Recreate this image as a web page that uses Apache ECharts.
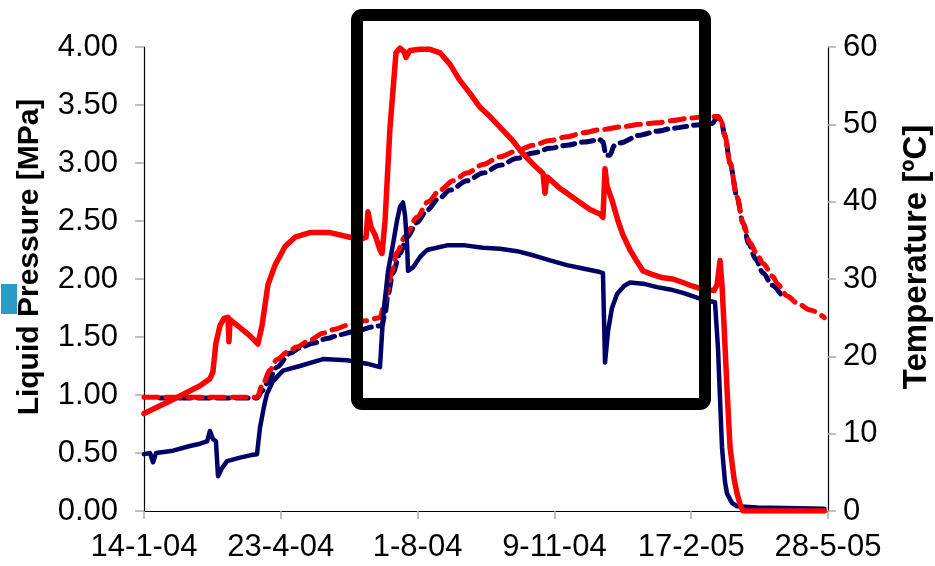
<!DOCTYPE html>
<html>
<head>
<meta charset="utf-8">
<script src="https://cdn.jsdelivr.net/npm/echarts@6/dist/echarts.min.js"></script>
<style>
html,body{margin:0;padding:0;background:#fff;}
#chart{width:935px;height:566px;}
</style>
</head>
<body>
<div id="chart"></div>
<script>
// x values are days since 14-1-04
const xTickLabels = ["14-1-04","23-4-04","1-8-04","9-11-04","17-2-05","28-5-05"];
const leftTitle = "Liquid Pressure [MPa]";
const rightTitle = "Temperature [ºC]";

const pressRedDays = [0,22.7,40.9,48.2,50.4,52.6,55.6,58.5,61.4,62.1,62.9,70.2,77.5,83.3,86.3,90.6,95.8,103.1,110.4,121.3,136,150.6,157.9,162.3,163.7,165.9,168.9,172.5,174,176.2,179.8,184.2,187.1,190.1,191.5,194.4,201.8,209.1,216.4,223.7,231,238.3,245.6,252.9,260.2,269,277,284.4,291.7,293.1,294.6,300.4,304.1,309.2,318.7,326,333.3,335.5,337,338.5,342.1,346.5,350.1,355.3,360.4,364.8,371.3,379.4,386.7,394,400.6,406.4,416.7,418.9,421.1,422.5,424,426.2,428.4,431.3,433.5,435.7,437.9,497.4];
const pressRedVals = [0.84,0.97,1.08,1.14,1.20,1.45,1.60,1.66,1.67,1.46,1.65,1.58,1.51,1.44,1.60,1.95,2.12,2.28,2.36,2.40,2.40,2.36,2.34,2.36,2.58,2.45,2.38,2.25,2.22,2.50,3.30,3.95,3.99,3.96,3.91,3.97,3.98,3.98,3.95,3.85,3.71,3.60,3.48,3.40,3.31,3.20,3.08,2.99,2.91,2.74,2.88,2.82,2.78,2.74,2.66,2.60,2.56,2.53,2.95,2.80,2.68,2.50,2.38,2.25,2.15,2.07,2.04,2.01,2.00,1.97,1.94,1.92,1.90,1.95,2.16,1.95,1.60,1.05,0.55,0.28,0.15,0.06,0.00,0.00];

const pressBlueDays = [0,4.4,6.6,8.8,21.2,33.6,40.9,46.1,48.2,50.4,52.6,54.1,57,60.7,70.2,77.5,82.6,84.8,87.7,89.9,94.3,101.6,114,130.8,148.4,163,172.5,174.7,178.4,181.3,184.9,187.1,189.3,190.8,192.3,193,196.6,201.8,206.9,221.5,234.7,247.8,260.2,272.7,285.8,296.8,309.2,320.9,333.3,335.5,337,339.2,342.1,345.8,350.9,355.3,364.8,375,384.5,394,406.4,417.4,419.6,422.5,424.7,426.2,429.8,433.5,448.1,497.4];
const pressBlueVals = [0.49,0.50,0.42,0.50,0.52,0.56,0.58,0.60,0.69,0.62,0.60,0.30,0.37,0.43,0.46,0.48,0.49,0.72,0.90,1.01,1.12,1.21,1.25,1.31,1.30,1.27,1.24,1.67,2.07,2.25,2.50,2.62,2.66,2.55,2.30,2.07,2.10,2.19,2.25,2.29,2.29,2.27,2.26,2.24,2.20,2.16,2.12,2.09,2.06,2.05,1.28,1.55,1.75,1.87,1.94,1.97,1.96,1.93,1.91,1.88,1.83,1.80,1.40,0.55,0.25,0.15,0.07,0.04,0.03,0.02];

const tempRedDays = [0,40.9,82.6,87,92.1,97.2,104.5,111.8,121.3,130.8,139.6,148.4,161.6,172.5,175.4,177.6,181.3,184.9,190.8,199.6,207.6,216.4,225.9,236.1,247.8,260.2,272.7,284.4,296.8,309.2,320.9,333.3,350.1,362.6,375,386.7,399.1,410.1,419.6,421.8,424.7,428.4,433.5,437.9,443,448.1,452.5,459.9,462.8,470.1,477.4,486.9,497.4];
const tempRedVals = [14.7,14.7,14.7,16.5,18.2,19.6,20.5,21.2,22.1,23.0,23.5,24.0,24.6,25.0,26.5,28.2,31.0,33.4,35.5,38.0,40.0,41.5,42.7,43.7,44.8,45.8,46.6,47.3,47.9,48.4,48.9,49.3,49.7,50.0,50.2,50.5,50.8,51.0,51.0,50.5,48.5,45.0,40.6,37.2,34.7,33.2,32.0,30.3,29.4,27.8,26.9,26.0,25.0];

const tempBlueDays = [11.7,82.6,86.3,89.9,97.2,106.7,114,123.5,133.8,143.3,155.7,167.4,174,176.2,178.4,182,187.1,192.3,199.6,206.9,214.9,223.7,236.1,247.8,260.2,272.7,284.4,296.8,309.2,320.9,333.3,335.5,337.7,340.6,343.6,348,362.6,375,386.7,404.2,415.2,419.6,421.8,424.7,428.4,433.5,437.9,442,447,452.5,459.1,466.4];
const tempBlueVals = [14.6,14.6,15.5,16.5,18.6,20.4,21.1,21.7,22.3,22.8,23.3,23.8,24.0,25.5,28.0,30.8,33.3,35.4,37.3,38.9,40.3,41.5,42.7,43.7,44.7,45.6,46.3,46.9,47.3,47.7,48.0,47.7,46.0,46.0,47.2,47.6,48.6,49.1,49.5,49.9,50.1,51.0,50.5,48.5,45.0,40.6,37.2,34.6,32.6,30.8,29.2,27.8];

function pairs(xs, ys){ return xs.map((x,i)=>[x, ys[i]]); }

const FONT = "'Liberation Sans', Arial, sans-serif";
const RED = '#FF0000';
const NAVY = '#000066';

const chart = echarts.init(document.getElementById('chart'), null, {renderer:'canvas'});
chart.setOption({
  animation: false,
  backgroundColor: '#ffffff',
  grid: { left: 144, right: 107, top: 47, bottom: 55, containLabel: false },
  xAxis: {
    type: 'value', min: 0, max: 500, interval: 100,
    axisLine: { show: true, lineStyle: { color: '#000', width: 1.2 } },
    axisTick: { show: true, length: 8, lineStyle: { color: '#aaa', width: 1.5 } },
    splitLine: { show: false },
    axisLabel: { fontSize: 31, fontFamily: FONT, color: '#000', margin: 21,
      formatter: v => xTickLabels[Math.round(v/100)] }
  },
  yAxis: [{
    type: 'value', min: 0, max: 4, interval: 0.5, position: 'left',
    axisLine: { show: true, lineStyle: { color: '#000', width: 1.2 } },
    axisTick: { show: true, length: 9, lineStyle: { color: '#aaa', width: 1.5 } },
    splitLine: { show: false },
    axisLabel: { fontSize: 31, fontFamily: FONT, color: '#000', margin: 26,
      formatter: v => v.toFixed(2) }
  },{
    type: 'value', min: 0, max: 60, interval: 10, position: 'right',
    axisLine: { show: true, lineStyle: { color: '#000', width: 1.2 } },
    axisTick: { show: true, length: 8, lineStyle: { color: '#aaa', width: 1.5 } },
    splitLine: { show: false },
    axisLabel: { fontSize: 31, fontFamily: FONT, color: '#000', margin: 15 }
  }],
  series: [
    { name: 'T2', type: 'line', yAxisIndex: 1, data: pairs(tempBlueDays, tempBlueVals),
      showSymbol: false, smooth: 0.3, smoothMonotone: 'x',
      lineStyle: { color: NAVY, width: 5, type: [12, 7], cap: 'round' }, z: 2 },
    { name: 'T1', type: 'line', yAxisIndex: 1, data: pairs(tempRedDays, tempRedVals),
      showSymbol: false, smooth: 0.3, smoothMonotone: 'x',
      lineStyle: { color: RED, width: 5, type: [14, 8], cap: 'round' }, z: 3 },
    { name: 'P2', type: 'line', yAxisIndex: 0, data: pairs(pressBlueDays, pressBlueVals),
      showSymbol: false, lineStyle: { color: NAVY, width: 4.5, join: 'round', cap: 'round' }, z: 4 },
    { name: 'P1', type: 'line', yAxisIndex: 0, data: pairs(pressRedDays, pressRedVals),
      showSymbol: false, lineStyle: { color: RED, width: 5.5, join: 'round', cap: 'round' }, z: 5 }
  ],
  graphic: [
    { type: 'text', rotation: Math.PI/2, z: 10,
      style: { text: leftTitle, font: "bold 30px 'Liberation Sans', Arial, sans-serif", fill: '#000',
               textAlign: 'center', textVerticalAlign: 'middle' },
      x: 30, y: 257 },
    { type: 'text', rotation: Math.PI/2, z: 10,
      style: { text: rightTitle, font: "bold 33px 'Liberation Sans', Arial, sans-serif", fill: '#000',
               textAlign: 'center', textVerticalAlign: 'middle' },
      x: 917, y: 257 },
    { type: 'rect', z: 10, shape: { x: 1, y: 284, width: 16, height: 30 },
      style: { fill: '#2B9CC6' } },
    { type: 'rect', z: 20, shape: { x: 357, y: 15, width: 348, height: 389, r: 5 },
      style: { fill: 'none', stroke: '#000', lineWidth: 12 } }
  ]
});
</script>
</body>
</html>
